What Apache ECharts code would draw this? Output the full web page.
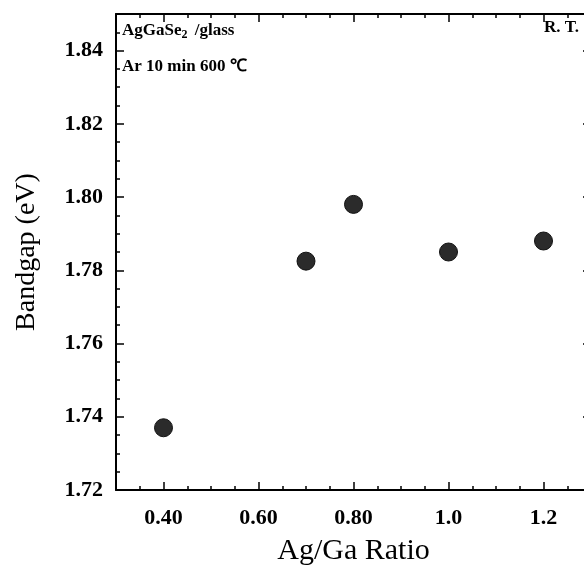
<!DOCTYPE html>
<html>
<head>
<meta charset="utf-8">
<script src="https://cdn.jsdelivr.net/npm/echarts@6/dist/echarts.min.js"></script>
<style>html,body{margin:0;padding:0;background:#fff;}#c{width:584px;height:570px;}</style>
</head>
<body>
<div id="c"></div>
<script>
const agGaRatio = [0.40, 0.70, 0.80, 1.00, 1.20];
const bandgap = [1.737, 1.7825, 1.798, 1.785, 1.788];
const xTickValues = [0.4, 0.6, 0.8, 1.0, 1.2];
const xTickLabels = ['0.40', '0.60', '0.80', '1.0', '1.2'];
const yTickValues = [1.72, 1.74, 1.76, 1.78, 1.80, 1.82, 1.84];
const yTickLabels = ['1.72', '1.74', '1.76', '1.78', '1.80', '1.82', '1.84'];

const serif = '"Liberation Serif", "Times New Roman", serif';
function lookup(vals, labels) {
  return function (v) {
    for (let i = 0; i < vals.length; i++) if (Math.abs(vals[i] - v) < 1e-6) return labels[i];
    return '';
  };
}
const black = '#000';
const chart = echarts.init(document.getElementById('c'), null, {renderer: 'canvas'});
const baseX = {type: 'value', min: 0.3, max: 1.3, gridIndex: 0, splitLine: {show: false}};
const baseY = {type: 'value', min: 1.72, max: 1.85, gridIndex: 0, splitLine: {show: false}};
chart.setOption({
  animation: false,
  backgroundColor: '#fff',
  grid: {left: 116, top: 14, width: 475, height: 476, containLabel: false, outerBoundsMode: 'none'},
  xAxis: [
    Object.assign({}, baseX, {
      position: 'bottom', interval: 0.05,
      name: 'Ag/Ga Ratio', nameLocation: 'middle', nameGap: 46,
      nameTextStyle: {fontFamily: serif, fontSize: 30, color: black},
      axisLine: {show: true, lineStyle: {color: black, width: 2}},
      axisTick: {show: true, inside: true, length: 4, lineStyle: {color: black, width: 1.5}},
      axisLabel: {show: true, customValues: xTickValues, formatter: lookup(xTickValues, xTickLabels),
        margin: 17, fontFamily: serif, fontWeight: 'bold', fontSize: 22, color: black}
    }),
    Object.assign({}, baseX, {
      position: 'bottom',
      axisLine: {show: false},
      axisTick: {show: true, inside: true, length: 8, customValues: xTickValues, lineStyle: {color: black, width: 1.5}},
      axisLabel: {show: false}
    }),
    Object.assign({}, baseX, {
      position: 'top', interval: 0.05,
      axisLine: {show: true, lineStyle: {color: black, width: 2}},
      axisTick: {show: true, inside: true, length: 4, lineStyle: {color: black, width: 1.5}},
      axisLabel: {show: false}
    }),
    Object.assign({}, baseX, {
      position: 'top',
      axisLine: {show: false},
      axisTick: {show: true, inside: true, length: 8, customValues: xTickValues, lineStyle: {color: black, width: 1.5}},
      axisLabel: {show: false}
    })
  ],
  yAxis: [
    Object.assign({}, baseY, {
      position: 'left', interval: 0.005,
      name: 'Bandgap (eV)', nameLocation: 'middle', nameGap: 75,
      nameTextStyle: {fontFamily: serif, fontSize: 28, color: black},
      axisLine: {show: true, lineStyle: {color: black, width: 2}},
      axisTick: {show: true, inside: true, length: 4, lineStyle: {color: black, width: 1.5}},
      axisLabel: {show: true, customValues: yTickValues, formatter: lookup(yTickValues, yTickLabels),
        margin: 13, fontFamily: serif, fontWeight: 'bold', fontSize: 22, color: black}
    }),
    Object.assign({}, baseY, {
      position: 'left',
      axisLine: {show: false},
      axisTick: {show: true, inside: true, length: 8, customValues: yTickValues, lineStyle: {color: black, width: 1.5}},
      axisLabel: {show: false}
    }),
    Object.assign({}, baseY, {
      position: 'right',
      axisLine: {show: true, lineStyle: {color: black, width: 2}},
      axisTick: {show: true, inside: true, length: 8, customValues: yTickValues, lineStyle: {color: black, width: 1.5}},
      axisLabel: {show: false}
    })
  ],
  graphic: [
    {type: 'text', left: 122, top: 22, style: {
      text: 'AgGaSe{sub|2} /glass', fill: black,
      font: 'bold 17px "Liberation Serif", serif',
      rich: {sub: {fontSize: 12, fontWeight: 'bold', fontFamily: serif, verticalAlign: 'bottom', padding: [9, 3, 0, 0]}}
    }},
    {type: 'text', left: 122, top: 58, style: {
      text: 'Ar 10 min 600 \u2103', fill: black, font: 'bold 17px "Liberation Serif", serif'
    }},
    {type: 'text', left: 544, top: 19, style: {
      text: 'R. T.', fill: black, font: 'bold 17px "Liberation Serif", serif'
    }}
  ],
  series: [{
    type: 'scatter', xAxisIndex: 0, yAxisIndex: 0,
    symbol: 'circle', symbolSize: 18,
    itemStyle: {color: '#2b2b2b', borderColor: '#111', borderWidth: 1, opacity: 1},
    data: agGaRatio.map((x, i) => [x, bandgap[i]])
  }]
});
</script>
</body>
</html>
